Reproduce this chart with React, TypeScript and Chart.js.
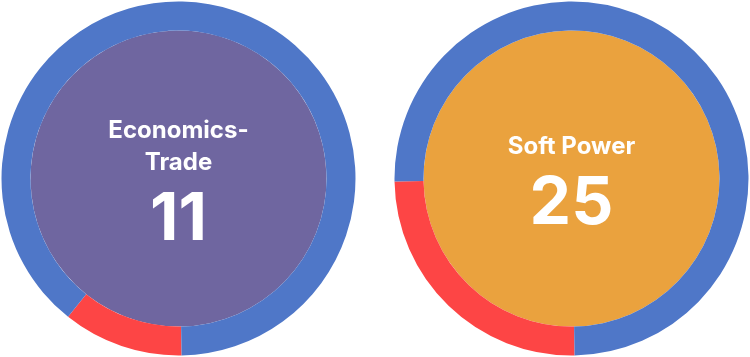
import React, { useEffect, useRef } from "react";
import { Chart, registerables } from "chart.js";

Chart.register(...registerables);

const gaugeTitles: string[][] = [["Economics-", "Trade"], ["Soft Power"]];
const gaugeValues: number[] = [11, 25];
const gaugeMax = 100;
const innerColors: string[] = ["#6f66a0", "#eaa23e"];
const valueColor = "#fd4545";
const restColor = "#4f77c8";

function Gauge({ title, value, inner, left }: { title: string[]; value: number; inner: string; left: number }) {
  const ref = useRef<HTMLCanvasElement>(null);
  useEffect(() => {
    const canvas = ref.current;
    if (!canvas) return;
    const textPlugin = {
      id: "centerText",
      afterDraw(chart: any) {
        const { ctx, chartArea } = chart;
        const cx = (chartArea.left + chartArea.right) / 2;
        const cy = (chartArea.top + chartArea.bottom) / 2;
        const n = title.length;
        const blockCenter = cy + 3;
        const y0 = blockCenter - ((n - 1) * 32 + 55) / 2;
        ctx.save();
        ctx.fillStyle = "#ffffff";
        ctx.textAlign = "center";
        ctx.textBaseline = "alphabetic";
        ctx.font = "bold 24px Inter";
        title.forEach((line, i) => ctx.fillText(line, cx, y0 + i * 32));
        ctx.font = "bold 66px Inter";
        ctx.fillText(String(value), cx, y0 + (n - 1) * 32 + 70);
        ctx.restore();
      },
    };
    const chart = new Chart(canvas, {
      type: "doughnut",
      data: {
        labels: ["value", "rest"],
        datasets: [
          {
            data: [value, gaugeMax - value],
            backgroundColor: [valueColor, restColor],
            borderWidth: 0,
            weight: 29,
          },
          {
            data: [1],
            backgroundColor: [inner],
            borderWidth: 0,
            weight: 148,
          },
        ],
      },
      options: {
        animation: false,
        responsive: false,
        maintainAspectRatio: false,
        rotation: 179,
        cutout: 0,
        events: [],
        layout: { padding: 1.5 },
        plugins: { legend: { display: false }, tooltip: { enabled: false } },
      },
      plugins: [textPlugin],
    });
    return () => chart.destroy();
  }, [title, value, inner]);
  return (
    <canvas
      ref={ref}
      width={357}
      height={357}
      style={{ position: "absolute", left, top: 0, width: 357, height: 357 }}
    />
  );
}

export default function App() {
  useEffect(() => {
    document.body.style.margin = "0";
  }, []);
  return (
    <div style={{ position: "relative", width: 750, height: 357, background: "#ffffff" }}>
      <Gauge title={gaugeTitles[0]} value={gaugeValues[0]} inner={innerColors[0]} left={0} />
      <Gauge title={gaugeTitles[1]} value={gaugeValues[1]} inner={innerColors[1]} left={393} />
    </div>
  );
}
